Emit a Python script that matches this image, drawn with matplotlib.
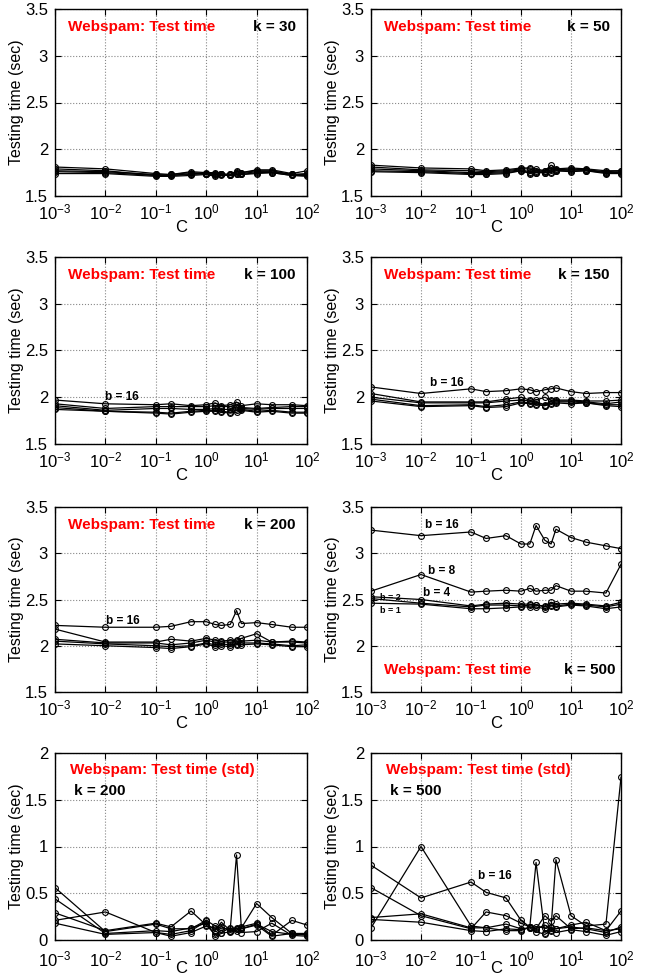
import numpy as np
import matplotlib
matplotlib.use("Agg")
import matplotlib.pyplot as plt

plt.rcParams['font.family'] = ['Liberation Sans', 'DejaVu Sans']
plt.rcParams['mathtext.fontset'] = 'custom'
plt.rcParams['mathtext.rm'] = 'Liberation Sans'
plt.rcParams['mathtext.it'] = 'Liberation Sans'

C = [1e-3, 1e-2, 0.1, 0.2, 0.5, 1, 1.5, 2, 3, 4, 5, 10, 20, 50, 100]

k30 = {
    1:  [1.74, 1.74, 1.71, 1.71, 1.72, 1.73, 1.71, 1.72, 1.72, 1.73, 1.73, 1.74, 1.75, 1.72, 1.71],
    2:  [1.76, 1.75, 1.72, 1.72, 1.73, 1.74, 1.72, 1.73, 1.72, 1.74, 1.73, 1.75, 1.75, 1.72, 1.72],
    4:  [1.77, 1.76, 1.73, 1.72, 1.74, 1.74, 1.73, 1.73, 1.72, 1.75, 1.74, 1.76, 1.76, 1.73, 1.73],
    8:  [1.79, 1.77, 1.72, 1.73, 1.75, 1.74, 1.74, 1.73, 1.73, 1.76, 1.75, 1.77, 1.77, 1.73, 1.74],
    16: [1.81, 1.79, 1.74, 1.73, 1.76, 1.75, 1.75, 1.74, 1.73, 1.77, 1.75, 1.78, 1.78, 1.74, 1.77],
}
k50 = {
    1:  [1.76, 1.75, 1.73, 1.73, 1.74, 1.77, 1.74, 1.75, 1.75, 1.75, 1.77, 1.76, 1.77, 1.74, 1.74],
    2:  [1.77, 1.76, 1.74, 1.74, 1.75, 1.77, 1.75, 1.75, 1.75, 1.76, 1.77, 1.77, 1.77, 1.75, 1.75],
    4:  [1.79, 1.77, 1.75, 1.75, 1.76, 1.78, 1.76, 1.76, 1.76, 1.78, 1.78, 1.78, 1.78, 1.75, 1.76],
    8:  [1.81, 1.78, 1.77, 1.76, 1.77, 1.79, 1.79, 1.77, 1.77, 1.80, 1.78, 1.79, 1.78, 1.76, 1.77],
    16: [1.83, 1.80, 1.79, 1.77, 1.78, 1.80, 1.80, 1.79, 1.77, 1.83, 1.79, 1.80, 1.79, 1.77, 1.77],
}
k100 = {
    1:  [1.87, 1.85, 1.83, 1.82, 1.84, 1.85, 1.85, 1.84, 1.83, 1.84, 1.86, 1.84, 1.85, 1.83, 1.83],
    2:  [1.89, 1.85, 1.84, 1.83, 1.85, 1.86, 1.86, 1.85, 1.84, 1.86, 1.87, 1.85, 1.86, 1.84, 1.84],
    4:  [1.91, 1.86, 1.88, 1.88, 1.87, 1.87, 1.88, 1.87, 1.87, 1.90, 1.88, 1.87, 1.88, 1.88, 1.88],
    8:  [1.93, 1.88, 1.90, 1.90, 1.90, 1.90, 1.91, 1.90, 1.90, 1.92, 1.89, 1.88, 1.89, 1.90, 1.90],
    16: [1.97, 1.93, 1.92, 1.93, 1.91, 1.92, 1.94, 1.91, 1.92, 1.95, 1.91, 1.93, 1.92, 1.92, 1.91],
}
k150 = {
    1:  [1.96, 1.90, 1.91, 1.89, 1.90, 1.94, 1.93, 1.92, 1.91, 1.93, 1.94, 1.93, 1.94, 1.91, 1.90],
    2:  [1.98, 1.91, 1.92, 1.90, 1.92, 1.95, 1.94, 1.93, 1.91, 1.94, 1.95, 1.95, 1.94, 1.92, 1.92],
    4:  [2.00, 1.94, 1.94, 1.94, 1.96, 1.97, 1.96, 1.95, 1.92, 1.96, 1.96, 1.96, 1.95, 1.93, 1.95],
    8:  [2.04, 1.95, 1.95, 1.95, 1.98, 2.00, 1.97, 1.97, 2.00, 1.97, 1.97, 1.97, 1.96, 1.96, 1.97],
    16: [2.11, 2.04, 2.09, 2.06, 2.07, 2.09, 2.08, 2.06, 2.08, 2.09, 2.10, 2.06, 2.04, 2.05, 2.05],
}
k200 = {
    1:  [2.02, 2.00, 1.98, 1.97, 1.99, 2.02, 1.99, 2.00, 1.99, 2.01, 2.01, 2.02, 2.01, 1.99, 1.99],
    2:  [2.05, 2.02, 2.00, 1.99, 2.00, 2.03, 2.01, 2.02, 2.01, 2.02, 2.03, 2.03, 2.02, 2.00, 2.01],
    4:  [2.07, 2.03, 2.03, 2.01, 2.03, 2.06, 2.04, 2.04, 2.04, 2.05, 2.05, 2.06, 2.04, 2.04, 2.03],
    8:  [2.18, 2.04, 2.04, 2.07, 2.05, 2.08, 2.06, 2.05, 2.06, 2.06, 2.08, 2.13, 2.04, 2.05, 2.04],
    16: [2.22, 2.20, 2.20, 2.21, 2.26, 2.26, 2.23, 2.22, 2.23, 2.38, 2.24, 2.25, 2.23, 2.20, 2.20],
}
k500 = {
    1:  [2.46, 2.45, 2.40, 2.40, 2.41, 2.42, 2.42, 2.42, 2.40, 2.43, 2.42, 2.44, 2.43, 2.40, 2.42],
    2:  [2.51, 2.46, 2.42, 2.44, 2.44, 2.43, 2.44, 2.44, 2.42, 2.44, 2.43, 2.45, 2.44, 2.42, 2.45],
    4:  [2.53, 2.50, 2.43, 2.45, 2.46, 2.45, 2.45, 2.44, 2.43, 2.47, 2.45, 2.46, 2.45, 2.43, 2.47],
    8:  [2.59, 2.77, 2.58, 2.59, 2.60, 2.59, 2.62, 2.59, 2.60, 2.60, 2.65, 2.59, 2.59, 2.57, 2.88],
    16: [3.25, 3.19, 3.23, 3.16, 3.19, 3.10, 3.10, 3.30, 3.14, 3.10, 3.26, 3.17, 3.12, 3.08, 3.05],
}
std200 = {
    1:  [0.18, 0.06, 0.08, 0.06, 0.10, 0.20, 0.04, 0.07, 0.09, 0.13, 0.12, 0.16, 0.04, 0.07, 0.07],
    2:  [0.21, 0.30, 0.08, 0.04, 0.08, 0.15, 0.13, 0.14, 0.10, 0.12, 0.08, 0.09, 0.18, 0.05, 0.04],
    4:  [0.29, 0.10, 0.18, 0.14, 0.31, 0.16, 0.06, 0.08, 0.13, 0.10, 0.14, 0.18, 0.05, 0.21, 0.16],
    8:  [0.44, 0.07, 0.10, 0.09, 0.13, 0.18, 0.10, 0.19, 0.10, 0.12, 0.13, 0.39, 0.24, 0.07, 0.05],
    16: [0.56, 0.09, 0.17, 0.12, 0.12, 0.21, 0.15, 0.12, 0.12, 0.91, 0.12, 0.17, 0.09, 0.06, 0.06],
}
std500 = {
    1:  [0.22, 0.19, 0.10, 0.09, 0.12, 0.11, 0.13, 0.09, 0.06, 0.10, 0.08, 0.11, 0.09, 0.05, 0.09],
    2:  [0.24, 0.28, 0.13, 0.13, 0.17, 0.12, 0.13, 0.14, 0.13, 0.13, 0.12, 0.14, 0.12, 0.08, 0.14],
    4:  [0.56, 0.26, 0.12, 0.30, 0.26, 0.18, 0.14, 0.12, 0.26, 0.20, 0.26, 0.12, 0.13, 0.10, 0.31],
    8:  [0.13, 1.00, 0.15, 0.13, 0.10, 0.10, 0.14, 0.83, 0.08, 0.14, 0.86, 0.26, 0.15, 0.17, 1.74],
    16: [0.80, 0.45, 0.62, 0.51, 0.45, 0.21, 0.14, 0.12, 0.16, 0.11, 0.12, 0.16, 0.19, 0.10, 0.12],
}

W, H = 646, 977
fig = plt.figure(figsize=(W / 100, H / 100), dpi=100)

cols = [(55, 307), (371, 621)]
rows = [(9, 196), (257, 444), (507, 692), (753, 940)]

def make_ax(r, c):
    (x0, x1), (y0, y1) = cols[c], rows[r]
    return fig.add_axes([x0 / W, 1 - y1 / H, (x1 - x0) / W, (y1 - y0) / H])

def style(ax, ylim, yticks, bottom=False):
    ax.set_xscale('log')
    ax.set_xlim(1e-3, 1e2)
    ax.set_ylim(*ylim)
    ax.set_xticks([1e-3, 1e-2, 1e-1, 1e0, 1e1, 1e2])
    ax.set_yticks(yticks)
    ax.set_yticklabels([('%g' % t) for t in yticks])
    ax.xaxis.set_minor_locator(matplotlib.ticker.NullLocator())
    ax.grid(True, which='major', linestyle=':', color='#888888', linewidth=0.8)
    ax.tick_params(direction='in', labelsize=12, length=4, top=True, right=True)
    ax.tick_params(axis='x', pad=(7 if bottom else 5))
    ax.tick_params(axis='y', pad=5)
    for s in ax.spines.values():
        s.set_linewidth(1.0)
    ax.set_xlabel('C', fontsize=12, labelpad=(-6 if bottom else -2))
    ax.set_ylabel('Testing time (sec)', fontsize=11.5, labelpad=1)

def draw(ax, data):
    for b in [1, 2, 4, 8, 16]:
        ax.plot(C, data[b], '-o', color='black', linewidth=0.9, markersize=4.2,
                mfc='none', mec='black', mew=0.8)

red = dict(color='red', fontweight='bold', fontsize=11)
blk = dict(color='black', fontweight='bold', fontsize=11)
lbl = dict(color='black', fontweight='bold', fontsize=8.5)

main_ticks = [1.5, 2, 2.5, 3, 3.5]
std_ticks = [0, 0.5, 1, 1.5, 2]

panels = [
    (0, 0, k30, '30'), (0, 1, k50, '50'),
    (1, 0, k100, '100'), (1, 1, k150, '150'),
    (2, 0, k200, '200'),
]
for r, c, d, k in panels:
    ax = make_ax(r, c)
    draw(ax, d)
    style(ax, (1.5, 3.5), main_ticks)
    ax.text(0.05, 0.905, 'Webspam: Test time', transform=ax.transAxes, va='center', ha='left', **red)
    ax.text(0.955, 0.905, 'k = ' + k, transform=ax.transAxes, va='center', ha='right', **blk)
    if k == '100':
        ax.text(1.0e-2, 2.0, 'b = 16', va='center', ha='left', **lbl)
    if k == '150':
        ax.text(1.5e-2, 2.15, 'b = 16', va='center', ha='left', **lbl)
    if k == '200':
        ax.text(1.05e-2, 2.27, 'b = 16', va='center', ha='left', **lbl)

ax = make_ax(2, 1)
draw(ax, k500)
style(ax, (1.5, 3.5), main_ticks)
ax.text(0.053, 0.12, 'Webspam: Test time', transform=ax.transAxes, va='center', ha='left', **red)
ax.text(0.976, 0.12, 'k = 500', transform=ax.transAxes, va='center', ha='right', **blk)
ax.text(1.2e-2, 3.30, 'b = 16', va='center', ha='left', **lbl)
ax.text(1.4e-2, 2.81, 'b = 8', va='center', ha='left', **lbl)
ax.text(1.1e-2, 2.57, 'b = 4', va='center', ha='left', **lbl)
ax.text(1.5e-3, 2.52, 'b = 2', va='center', ha='left', color='black', fontweight='bold', fontsize=6.5)
ax.text(1.5e-3, 2.38, 'b = 1', va='center', ha='left', color='black', fontweight='bold', fontsize=6.5)

ax = make_ax(3, 0)
draw(ax, std200)
style(ax, (0, 2), std_ticks, bottom=True)
ax.text(0.06, 0.91, 'Webspam: Test time (std)', transform=ax.transAxes, va='center', ha='left', **red)
ax.text(0.075, 0.795, 'k = 200', transform=ax.transAxes, va='center', ha='left', **blk)

ax = make_ax(3, 1)
draw(ax, std500)
style(ax, (0, 2), std_ticks, bottom=True)
ax.text(0.06, 0.91, 'Webspam: Test time (std)', transform=ax.transAxes, va='center', ha='left', **red)
ax.text(0.075, 0.795, 'k = 500', transform=ax.transAxes, va='center', ha='left', **blk)
ax.text(0.14, 0.68, 'b = 16', va='center', ha='left', **lbl)

fig.savefig('out.png', dpi=100)
